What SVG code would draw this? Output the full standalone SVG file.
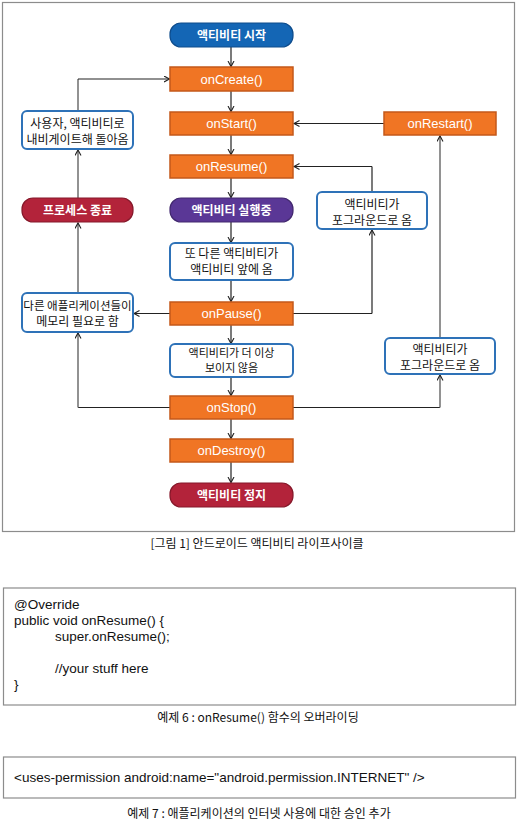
<svg xmlns="http://www.w3.org/2000/svg" width="519" height="823" viewBox="0 0 519 823">
<defs>
<marker id="ah" markerWidth="8" markerHeight="8" refX="6" refY="3.5" orient="auto" markerUnits="userSpaceOnUse">
<path d="M0.5,0.5 L6,3.5 L0.5,6.5" fill="none" stroke="#222" stroke-width="1.1"/>
</marker>
</defs>
<style>
.frame{fill:#fff;stroke:#8c8c8c;stroke-width:1.2}
.orange{fill:#F07524;stroke:#C4581A;stroke-width:1.5}
.wbox{fill:#fff;stroke:#2E72B8;stroke-width:2}
.t{font-family:"Noto Sans CJK KR","Liberation Sans",sans-serif;font-size:12px;text-anchor:middle;fill:#111}
.tw{font-family:"Noto Sans CJK KR","Liberation Sans",sans-serif;font-size:12px;font-weight:bold;text-anchor:middle;fill:#fff}
.to{font-family:"Liberation Sans",Arial,sans-serif;font-size:13px;text-anchor:middle;fill:#fff}
.cap{font-family:"Noto Sans CJK KR","Liberation Sans",sans-serif;font-size:12px;text-anchor:middle;fill:#111}
.code{font-family:"Liberation Sans",Arial,sans-serif;font-size:13.5px;fill:#111}
.cb{stroke:#222;stroke-width:1.2;fill:none}
.cg{stroke:#777;stroke-width:1.6;fill:none}
</style>
<rect class="frame" x="2.5" y="2.5" width="512" height="529"/>

<g id="connectors">
<line class="cb" x1="231" y1="47" x2="231" y2="66.5" marker-end="url(#ah)"/>
<line class="cb" x1="231" y1="91" x2="231" y2="111.5" marker-end="url(#ah)"/>
<line class="cb" x1="231" y1="135" x2="231" y2="154.5" marker-end="url(#ah)"/>
<line class="cb" x1="231" y1="178" x2="231" y2="197.5" marker-end="url(#ah)"/>
<line class="cb" x1="231" y1="222" x2="231" y2="242.5" marker-end="url(#ah)"/>
<line class="cb" x1="231" y1="280" x2="231" y2="301.5" marker-end="url(#ah)"/>
<line class="cb" x1="231" y1="325" x2="231" y2="343.5" marker-end="url(#ah)"/>
<line class="cb" x1="231" y1="377" x2="231" y2="395.5" marker-end="url(#ah)"/>
<line class="cb" x1="231" y1="419" x2="231" y2="438.5" marker-end="url(#ah)"/>
<line class="cb" x1="231" y1="462" x2="231" y2="482.5" marker-end="url(#ah)"/>
<line class="cg" x1="78" y1="111" x2="78" y2="79"/>
<line class="cb" x1="78" y1="79" x2="169.5" y2="79" marker-end="url(#ah)"/>
<line class="cg" x1="78" y1="198" x2="78" y2="150" marker-end="url(#ah)"/>
<line class="cg" x1="78" y1="293" x2="78" y2="223" marker-end="url(#ah)"/>
<line class="cb" x1="170" y1="407.5" x2="78" y2="407.5"/>
<line class="cg" x1="78" y1="407.5" x2="78" y2="333" marker-end="url(#ah)"/>
<line class="cb" x1="170" y1="313.5" x2="134" y2="313.5" marker-end="url(#ah)"/>
<line class="cb" x1="384" y1="123.5" x2="294" y2="123.5" marker-end="url(#ah)"/>
<line class="cb" x1="372" y1="192" x2="372" y2="166.5"/>
<line class="cb" x1="372" y1="166.5" x2="294" y2="166.5" marker-end="url(#ah)"/>
<line class="cb" x1="293" y1="313.5" x2="372" y2="313.5"/>
<line class="cb" x1="372" y1="313.5" x2="372" y2="230" marker-end="url(#ah)"/>
<line class="cg" x1="440" y1="338" x2="440" y2="136" marker-end="url(#ah)"/>
<line class="cb" x1="293" y1="407.5" x2="440" y2="407.5"/>
<line class="cg" x1="440" y1="407.5" x2="440" y2="375" marker-end="url(#ah)"/>
</g>

<g id="n-start">
<rect x="170" y="23" width="123" height="24" rx="11" fill="#1466B5" stroke="#0E4C8C" stroke-width="1.2"/>
<text class="tw" x="231.5" y="39.5">액티비티 시작</text>
</g>
<g id="n-oncreate">
<rect class="orange" x="170" y="67" width="123" height="24"/>
<text class="to" x="231.5" y="83.5">onCreate()</text>
</g>
<g id="n-onstart">
<rect class="orange" x="170" y="112" width="123" height="23"/>
<text class="to" x="231.5" y="128">onStart()</text>
</g>
<g id="n-onresume">
<rect class="orange" x="170" y="155" width="123" height="23"/>
<text class="to" x="231.5" y="171">onResume()</text>
</g>
<g id="n-running">
<rect x="170" y="198" width="123" height="24" rx="11" fill="#5A3796" stroke="#42286F" stroke-width="1.2"/>
<text class="tw" x="231.5" y="214.5">액티비티 실행중</text>
</g>
<g id="n-another">
<rect class="wbox" x="170" y="243" width="123" height="37" rx="5"/>
<text class="t" x="231.5" y="257.5">또 다른 액티비티가</text>
<text class="t" x="231.5" y="273.5">액티비티 앞에 옴</text>
</g>
<g id="n-onpause">
<rect class="orange" x="170" y="302" width="123" height="23"/>
<text class="to" x="231.5" y="318">onPause()</text>
</g>
<g id="n-notvisible">
<rect class="wbox" x="170" y="344" width="123" height="33" rx="5"/>
<text class="t" x="231.5" y="357" style="font-size:11px">액티비티가 더 이상</text>
<text class="t" x="231.5" y="372" style="font-size:11px">보이지 않음</text>
</g>
<g id="n-onstop">
<rect class="orange" x="170" y="396" width="123" height="23"/>
<text class="to" x="231.5" y="412">onStop()</text>
</g>
<g id="n-ondestroy">
<rect class="orange" x="170" y="439" width="123" height="23"/>
<text class="to" x="231.5" y="455">onDestroy()</text>
</g>
<g id="n-stopped">
<rect x="170" y="483" width="123" height="24" rx="11" fill="#B3233A" stroke="#86182A" stroke-width="1.2"/>
<text class="tw" x="231.5" y="499.5">액티비티 정지</text>
</g>
<g id="n-usernav">
<rect class="wbox" x="22" y="111" width="111" height="38" rx="5"/>
<text class="t" x="77.5" y="128">사용자, 액티비티로</text>
<text class="t" x="77.5" y="144">내비게이트해 돌아옴</text>
</g>
<g id="n-kill">
<rect x="22" y="198" width="111" height="24" rx="11" fill="#B3233A" stroke="#86182A" stroke-width="1.2"/>
<text class="tw" x="77.5" y="214.5">프로세스 종료</text>
</g>
<g id="n-otherapps">
<rect class="wbox" x="22" y="293" width="111" height="39" rx="5"/>
<text class="t" x="77.5" y="309.5" style="font-size:11.5px">다른 애플리케이션들이</text>
<text class="t" x="77.5" y="325.5">메모리 필요로 함</text>
</g>
<g id="n-onrestart">
<rect class="orange" x="384" y="112" width="112" height="23"/>
<text class="to" x="440" y="128">onRestart()</text>
</g>
<g id="n-fg-upper">
<rect class="wbox" x="317" y="192" width="110" height="37" rx="5"/>
<text class="t" x="372" y="208.5">액티비티가</text>
<text class="t" x="372" y="224.5">포그라운드로 옴</text>
</g>
<g id="n-fg-lower">
<rect class="wbox" x="385" y="338" width="110" height="36" rx="5"/>
<text class="t" x="440" y="354">액티비티가</text>
<text class="t" x="440" y="370">포그라운드로 옴</text>
</g>

<text class="cap" x="257" y="547.5">[그림 1] 안드로이드 액티비티 라이프사이클</text>

<g id="code1">
<rect class="frame" x="3.5" y="588" width="512" height="117"/>
<text class="code" x="14" y="609">@Override</text>
<text class="code" x="14" y="625">public void onResume() {</text>
<text class="code" x="55" y="641">super.onResume();</text>
<text class="code" x="55" y="673">//your stuff here</text>
<text class="code" x="14" y="689">}</text>
</g>
<text class="cap" x="258" y="721.5">예제 6 : onResume() 함수의 오버라이딩</text>

<g id="code2">
<rect class="frame" x="3.5" y="757" width="512" height="41"/>
<text class="code" x="14" y="782">&lt;uses-permission android:name="android.permission.INTERNET" /&gt;</text>
</g>
<text class="cap" x="259" y="817.5">예제 7 : 애플리케이션의 인터넷 사용에 대한 승인 추가</text>
</svg>
